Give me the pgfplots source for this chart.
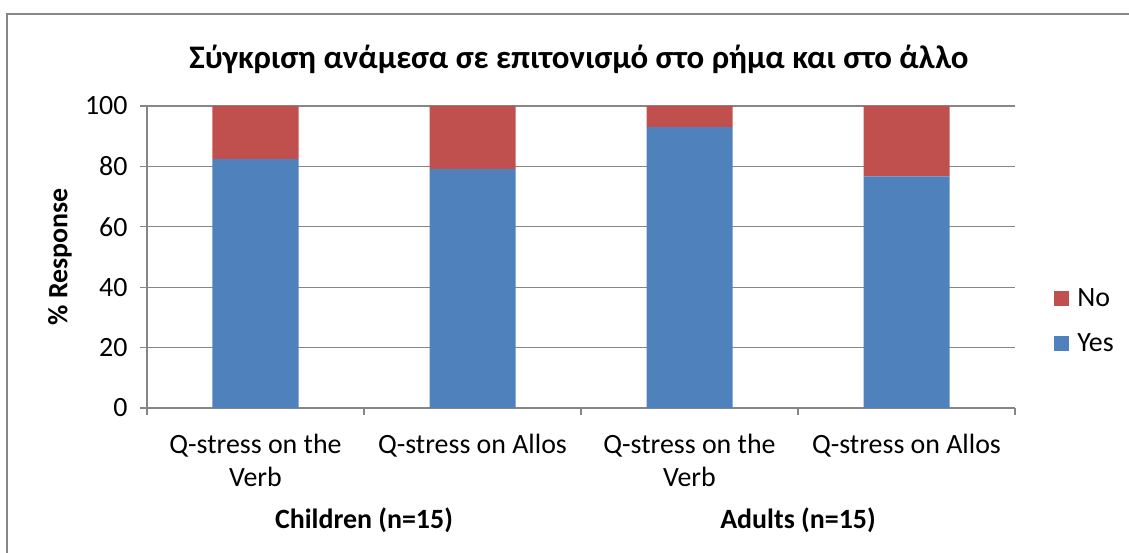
\documentclass[border=0pt]{standalone}
\usepackage{pgfplots}
\pgfplotsset{compat=1.18}
\usepackage{fontspec}
\setmainfont{Carlito}
\definecolor{cblue}{HTML}{4F81BD}
\definecolor{cred}{HTML}{C0504D}
\definecolor{cgrid}{HTML}{868686}
\begin{document}
\begin{tikzpicture}
\path[use as bounding box] (-147bp,-145bp) rectangle (982bp,408bp);
\draw[cgrid, line width=1.5bp] (-140bp,-200bp) -- (-140bp,394bp) -- (1100bp,394bp);
\begin{axis}[
  at={(0,0)}, anchor=south west,
  scale only axis, width=868bp, height=302bp,
  ybar stacked, bar width=86bp,
  xmin=-0.5, xmax=3.5, ymin=0, ymax=100,
  ytick={0,20,40,60,80,100},
  xtick={0,1,2,3},
  xticklabels={{Q-stress on the\\Verb},{Q-stress on Allos},{Q-stress on the\\Verb},{Q-stress on Allos}},
  minor xtick={-0.5,0.5,1.5,2.5,3.5},
  major x tick style={draw=none},
  minor x tick style={cgrid, line width=1.3bp},
  y tick style={cgrid, line width=1.3bp},
  tick align=outside,
  major tick length=7bp, minor tick length=7bp,
  axis x line*=bottom, axis y line*=left,
  axis line style={cgrid, line width=1.3bp, -},
  ymajorgrids, grid style={cgrid, line width=1.3bp},
  /pgf/number format/assume math mode=true,
  tick label style={font=\fontsize{28}{33}\selectfont},
  xticklabel style={align=center, yshift=-16bp},
  yticklabel style={xshift=-9bp},
  ylabel={\% Response},
  ylabel style={font=\fontsize{28}{33}\selectfont\bfseries, at={(rel axis cs:0,0.5)}, anchor=center, rotate=0, yshift=87bp},
  title={Σύγκριση ανάμεσα σε επιτονισμό στο ρήμα και στο άλλο},
  title style={font=\fontsize{33}{39}\selectfont\bfseries, at={(rel axis cs:0.4977,1)}, anchor=center, yshift=41bp},
  clip=false,
  reverse legend,
  legend style={at={(rel axis cs:1.045,0.288)}, anchor=west, draw=none, fill=none,
    font=\fontsize{28}{33}\selectfont, row sep=22bp, inner sep=0pt},
  legend cell align=left,
  legend image code/.code={\fill[#1] (0bp,-7.5bp) rectangle (15bp,7.5bp);},
]
\addplot[fill=cblue, draw=none] coordinates {(0,82.4) (1,79.1) (2,93.0) (3,76.7)};
\addplot[fill=cred, draw=none] coordinates {(0,17.6) (1,20.9) (2,7.0) (3,23.3)};
\legend{\hspace{6bp}Yes,\hspace{6bp}No}
\node[font=\fontsize{28}{33}\selectfont\bfseries, anchor=center] at (axis cs:0.5,0) [yshift=-112bp] {Children (n=15)};
\node[font=\fontsize{28}{33}\selectfont\bfseries, anchor=center] at (axis cs:2.5,0) [yshift=-112bp] {Adults (n=15)};
\end{axis}
\end{tikzpicture}
\end{document}
